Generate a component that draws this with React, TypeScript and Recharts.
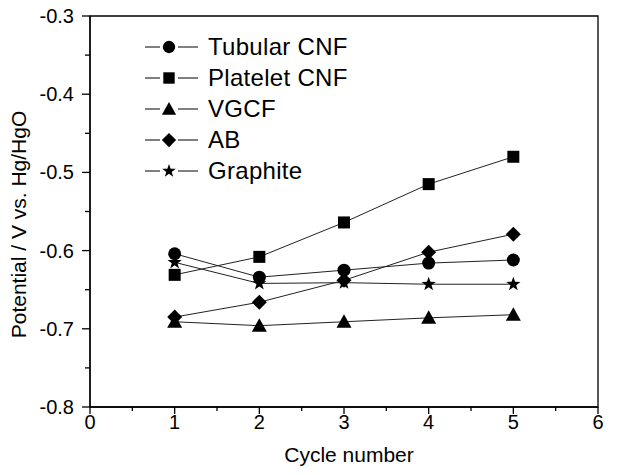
import React from "react";
import { LineChart, Line, XAxis, YAxis, ReferenceArea, Label } from "recharts";

const cycles = [1, 2, 3, 4, 5];
const tubularCNF = [-0.604, -0.634, -0.625, -0.616, -0.612];
const plateletCNF = [-0.631, -0.608, -0.564, -0.515, -0.48];
const vgcf = [-0.691, -0.696, -0.691, -0.686, -0.682];
const ab = [-0.685, -0.666, -0.638, -0.602, -0.579];
const graphite = [-0.615, -0.642, -0.641, -0.643, -0.643];

const xTicks = [0, 0.5, 1, 1.5, 2, 2.5, 3, 3.5, 4, 4.5, 5, 5.5, 6];
const yTicks = [-0.8, -0.75, -0.7, -0.65, -0.6, -0.55, -0.5, -0.45, -0.4, -0.35, -0.3];

const seriesNames = ["Tubular CNF", "Platelet CNF", "VGCF", "AB", "Graphite"];
const seriesKeys = ["tubular", "platelet", "vgcf", "ab", "graphite"];
const seriesShapes = ["circle", "square", "triangle", "diamond", "star"];

const data = cycles.map((c, i) => ({
  cycle: c,
  tubular: tubularCNF[i],
  platelet: plateletCNF[i],
  vgcf: vgcf[i],
  ab: ab[i],
  graphite: graphite[i],
}));

const FONT = "'Liberation Sans', Arial, Helvetica, sans-serif";

function Marker({ shape, cx, cy, s = 1 }: { shape: string; cx: number; cy: number; s?: number }) {
  if (cx == null || cy == null) return null;
  if (shape === "circle") return <circle cx={cx} cy={cy} r={6.5 * s} fill="#000" />;
  if (shape === "square") {
    const h = 6 * s;
    return <rect x={cx - h} y={cy - h} width={2 * h} height={2 * h} fill="#000" />;
  }
  if (shape === "triangle") {
    const h = 7.5 * s;
    return <polygon points={`${cx},${cy - h} ${cx + h},${cy + 0.8 * h} ${cx - h},${cy + 0.8 * h}`} fill="#000" />;
  }
  if (shape === "diamond") {
    const h = 7.5 * s;
    return <polygon points={`${cx},${cy - h} ${cx + h},${cy} ${cx},${cy + h} ${cx - h},${cy}`} fill="#000" />;
  }
  const pts: string[] = [];
  const R = 7.5 * s;
  const r = 3 * s;
  for (let k = 0; k < 10; k++) {
    const ang = -Math.PI / 2 + (k * Math.PI) / 5;
    const rad = k % 2 === 0 ? R : r;
    pts.push(`${cx + rad * Math.cos(ang)},${cy + rad * Math.sin(ang)}`);
  }
  return <polygon points={pts.join(" ")} fill="#000" />;
}

const XTick = (props: any) => {
  const { x, y, payload } = props;
  const v = payload.value;
  const major = Math.abs(v - Math.round(v)) < 1e-6;
  return (
    <g>
      <line x1={x} y1={y} x2={x} y2={y + (major ? 7 : 4)} stroke="#000" strokeWidth={1.3} />
      {major && (
        <text x={x} y={y + 22} textAnchor="middle" fontSize={20} fontFamily={FONT} fill="#000">
          {String(v)}
        </text>
      )}
    </g>
  );
};

const YTick = (props: any) => {
  const { x, y, payload } = props;
  const v = payload.value;
  const major = Math.round(Math.abs(v) * 100) % 10 === 0;
  return (
    <g>
      <line x1={x} y1={y} x2={x - (major ? 8 : 5)} y2={y} stroke="#000" strokeWidth={1.3} />
      {major && (
        <text x={x - 16} y={y + 7} textAnchor="end" fontSize={20} fontFamily={FONT} fill="#000">
          {v.toFixed(1)}
        </text>
      )}
    </g>
  );
};

const LegendBox = () => (
  <div style={{ position: "absolute", left: 143, top: 31, fontFamily: FONT, fontSize: 24 }}>
    {seriesNames.map((name, i) => (
      <div key={name} style={{ display: "flex", alignItems: "center", height: 31 }}>
        <svg width={58} height={24} style={{ display: "block" }}>
          <line x1={2} y1={12} x2={55} y2={12} stroke="#000" strokeWidth={1} />
          <rect x={17} y={2} width={18} height={20} fill="#fff" />
          <Marker shape={seriesShapes[i]} cx={26} cy={12} s={0.95} />
        </svg>
        <span style={{ marginLeft: 7, lineHeight: "24px", letterSpacing: 0.3 }}>{name}</span>
      </div>
    ))}
  </div>
);

export default function App() {
  return (
    <div style={{ position: "absolute", left: 0, top: 0, width: 625, height: 475, background: "#fff" }}>
      <LineChart width={625} height={475} data={data} margin={{ top: 16, right: 27, bottom: 0, left: 0 }}>
        <XAxis
          dataKey="cycle"
          type="number"
          domain={[0, 6]}
          ticks={xTicks}
          interval={0}
          height={68}
          tickSize={0}
          tickMargin={0}
          tickLine={false}
          tick={<XTick />}
          axisLine={{ stroke: "#000", strokeWidth: 1.3 }}
        >
          <Label
            content={(p: any) => {
              const vb = p.viewBox;
              return (
                <text x={vb.x + vb.width / 2 + 5} y={vb.y + 55} textAnchor="middle" fontSize={21} fontFamily={FONT} fill="#000">
                  Cycle number
                </text>
              );
            }}
          />
        </XAxis>
        <YAxis
          type="number"
          domain={[-0.8, -0.3]}
          ticks={yTicks}
          interval={0}
          width={90}
          tickSize={0}
          tickMargin={0}
          tickLine={false}
          tick={<YTick />}
          axisLine={{ stroke: "#000", strokeWidth: 1.3 }}
        >
          <Label
            content={(p: any) => {
              const vb = p.viewBox;
              const cx = 18;
              const cy = vb.y + vb.height / 2 + 13;
              return (
                <text
                  x={cx}
                  y={cy}
                  transform={`rotate(-90, ${cx}, ${cy})`}
                  textAnchor="middle"
                  dominantBaseline="central"
                  fontSize={21}
                  fontFamily={FONT}
                  fill="#000"
                >
                  Potential / V vs. Hg/HgO
                </text>
              );
            }}
          />
        </YAxis>
        <ReferenceArea x1={0} x2={6} y1={-0.8} y2={-0.3} fill="none" fillOpacity={0} stroke="#000" strokeWidth={1.3} />
        {seriesKeys.map((k, i) => (
          <Line
            key={k}
            dataKey={k}
            name={seriesNames[i]}
            stroke="#222"
            strokeWidth={1}
            isAnimationActive={false}
            dot={(p: any) => <Marker key={`${k}-${p.index}`} shape={seriesShapes[i]} cx={p.cx} cy={p.cy} />}
            activeDot={false}
          />
        ))}
      </LineChart>
      <LegendBox />
    </div>
  );
}
